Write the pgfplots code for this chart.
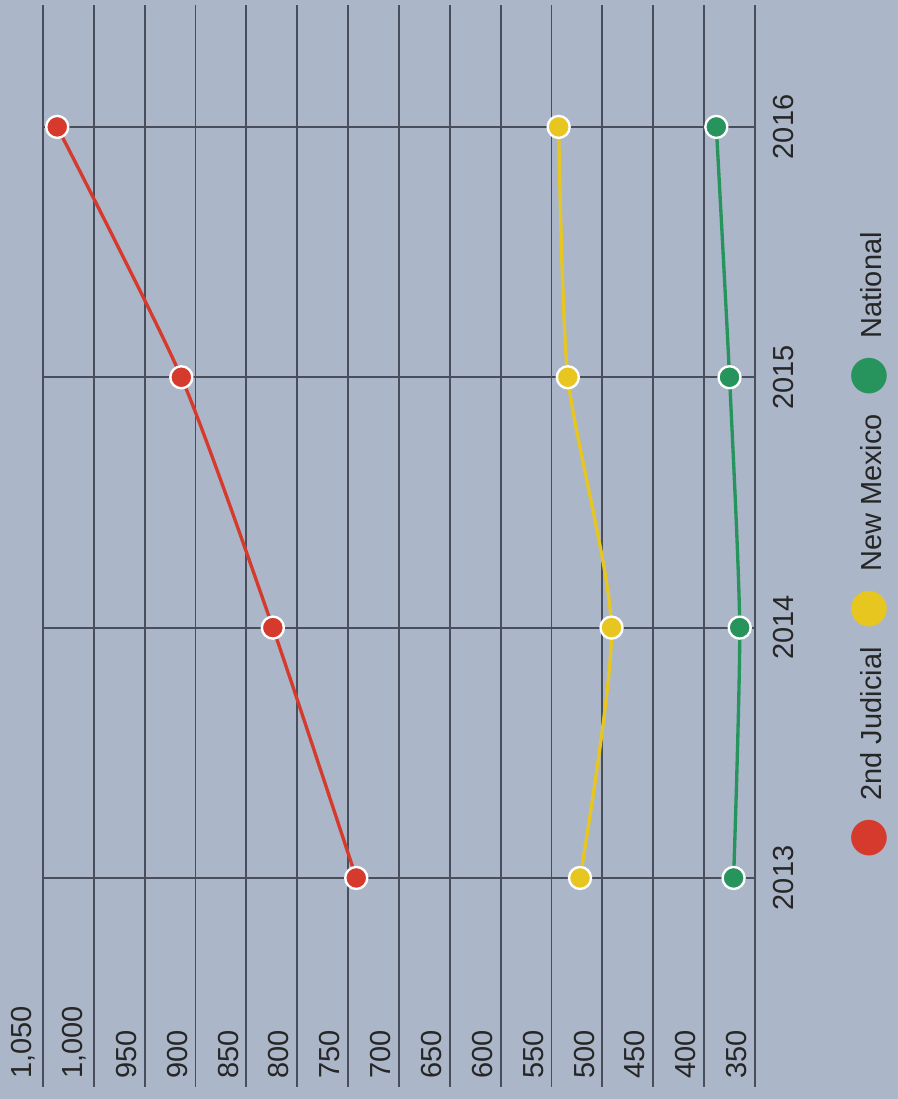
\documentclass[border=0pt]{standalone}
\usepackage{fontspec}
\setmainfont{Liberation Sans}
\newfontfamily\sym{DejaVu Sans}
\usepackage{pgfplots}
\pgfplotsset{compat=1.18}
\definecolor{bgc}{RGB}{171,183,201}
\definecolor{gridc}{RGB}{72,78,92}
\definecolor{jred}{RGB}{214,58,44}
\definecolor{jyel}{RGB}{232,198,32}
\definecolor{jgrn}{RGB}{38,148,92}
\newcommand{\legdot}[1]{{\sym\fontsize{14}{14}\selectfont\textcolor{#1}{●}}}
\begin{document}
\begin{tikzpicture}
\fill[bgc] (0,0) rectangle (269.4pt,329.7pt);
\begin{axis}[
  at={(12.9pt,3.6pt)}, anchor=south west,
  scale only axis, width=213.6pt, height=324.6pt,
  x dir=reverse,
  xmin=350, xmax=1050, ymin=2012.165, ymax=2016.487,
  xtick={350,400,...,1050},
  ytick={2013,2014,2015,2016},
  yticklabels={2013,2014,2015,2016},
  yticklabel pos=right,
  grid=major,
  major grid style={draw=gridc, line width=0.55pt},
  axis line style={draw=none},
  major tick length=0pt,
  clip=false,
  /pgf/number format/assume math mode=true,
  /pgf/number format/1000 sep={,},
  tick label style={font=\fontsize{8.7}{10}\selectfont, text=black!85},
  xticklabel style={rotate=90, anchor=south west, inner sep=2.2pt},
  yticklabel style={rotate=90, anchor=north, inner sep=5.4pt},
  every axis plot/.append style={line width=1pt, smooth, tension=0.4, mark=*, mark size=3.3pt},
]
\addplot[color=jred, mark options={fill=jred, draw=white, line width=0.7pt}]
  coordinates {(742,2013) (824,2014) (914,2015) (1036,2016)};
\addplot[color=jyel, mark options={fill=jyel, draw=white, line width=0.7pt}]
  coordinates {(522,2013) (491,2014) (534,2015) (543,2016)};
\addplot[color=jgrn, mark options={fill=jgrn, draw=white, line width=0.7pt}]
  coordinates {(371,2013) (365,2014) (375,2015) (388,2016)};
\node[rotate=90, anchor=west, inner sep=0pt, font=\fontsize{8.7}{10}\selectfont, text=black!85]
  at (axis cs:237,2013.075)
  {\legdot{jred}\hspace{5.2pt}2nd Judicial\hspace{5.2pt}\legdot{jyel}\hspace{5.2pt}New Mexico\hspace{5.2pt}\legdot{jgrn}\hspace{5.2pt}National};
\end{axis}
\pgfresetboundingbox
\useasboundingbox (0,0) rectangle (269.4pt,329.7pt);
\end{tikzpicture}
\end{document}
